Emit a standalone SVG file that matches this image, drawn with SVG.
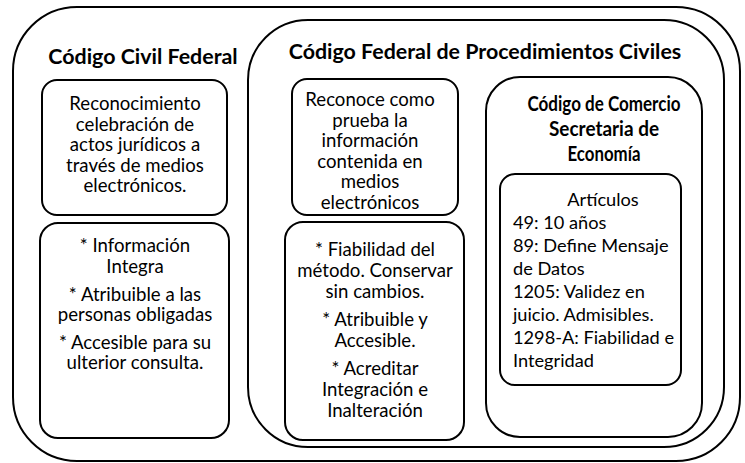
<svg xmlns="http://www.w3.org/2000/svg" width="745" height="463" viewBox="0 0 745 463">
<style>
.box{fill:#fff;stroke:#000;stroke-width:2}
.t{font-family:Lato,"Liberation Sans",sans-serif;font-size:18.6px;fill:#000;text-anchor:middle}
.b{font-family:Lato,"Liberation Sans",sans-serif;font-size:21.4px;font-weight:bold;fill:#000;text-anchor:middle}
.c{font-size:20.5px}
.a{font-size:18.2px}
</style>
<rect width="745" height="463" fill="#fff"/>
<g id="civil">
<rect class="box" x="13" y="7" width="727" height="454" rx="64"/>
<text class="b" x="143" y="64">Código Civil Federal</text>
</g>
<g id="reconocimiento">
<rect class="box" x="42" y="80" width="185" height="135" rx="15"/>
<text class="t" x="135"><tspan x="135" y="110">Reconocimiento</tspan><tspan x="135" y="130.5">celebración de</tspan><tspan x="135" y="151">actos jurídicos a</tspan><tspan x="135" y="171.5">través de medios</tspan><tspan x="135" y="192">electrónicos.</tspan></text>
</g>
<g id="informacion">
<rect class="box" x="40" y="223" width="189" height="215" rx="18"/>
<text class="t" x="135"><tspan x="135" y="252">* Información</tspan><tspan x="135" y="273">Integra</tspan><tspan x="135" y="301">* Atribuible a las</tspan><tspan x="135" y="321">personas obligadas</tspan><tspan x="135" y="349">* Accesible para su</tspan><tspan x="135" y="369">ulterior consulta.</tspan></text>
</g>
<g id="procedimientos">
<rect class="box" x="248" y="20" width="476" height="427" rx="60"/>
<text class="b" x="485" y="59">Código Federal de Procedimientos Civiles</text>
</g>
<g id="reconoce">
<rect class="box" x="292" y="79" width="166" height="136" rx="15"/>
<text class="t" x="370"><tspan x="370" y="106">Reconoce como</tspan><tspan x="370" y="126.5">prueba la</tspan><tspan x="370" y="147">información</tspan><tspan x="370" y="167.5">contenida en</tspan><tspan x="370" y="188">medios</tspan><tspan x="370" y="208.5">electrónicos</tspan></text>
</g>
<g id="fiabilidad">
<rect class="box" x="285" y="222" width="179" height="218" rx="18"/>
<text class="t" x="375"><tspan x="375" y="256">* Fiabilidad del</tspan><tspan x="375" y="277">método. Conservar</tspan><tspan x="375" y="298">sin cambios.</tspan><tspan x="375" y="326">* Atribuible y</tspan><tspan x="375" y="347">Accesible.</tspan><tspan x="375" y="375">* Acreditar</tspan><tspan x="375" y="396">Integración e</tspan><tspan x="375" y="417">Inalteración</tspan></text>
</g>
<g id="comercio">
<rect class="box" x="486" y="77" width="216" height="360" rx="34"/>
<text class="b c" x="604" y="111" textLength="153" lengthAdjust="spacingAndGlyphs">Código de Comercio</text>
<text class="b c" x="604" y="136" textLength="110" lengthAdjust="spacingAndGlyphs">Secretaria de</text>
<text class="b c" x="604" y="161" textLength="73" lengthAdjust="spacingAndGlyphs">Economía</text>
</g>
<g id="articulos">
<rect class="box" x="500" y="174" width="181" height="211" rx="15"/>
<text class="t a"><tspan x="603" y="206">Artículos</tspan><tspan x="513" y="229" text-anchor="start">49: 10 años</tspan><tspan x="513" y="252" text-anchor="start">89: Define Mensaje</tspan><tspan x="513" y="275" text-anchor="start">de Datos</tspan><tspan x="513" y="298" text-anchor="start">1205: Validez en</tspan><tspan x="513" y="321" text-anchor="start">juicio. Admisibles.</tspan><tspan x="513" y="344" text-anchor="start">1298-A: Fiabilidad e</tspan><tspan x="513" y="367" text-anchor="start">Integridad</tspan></text>
</g>
<g id="connectors"></g>
</svg>
